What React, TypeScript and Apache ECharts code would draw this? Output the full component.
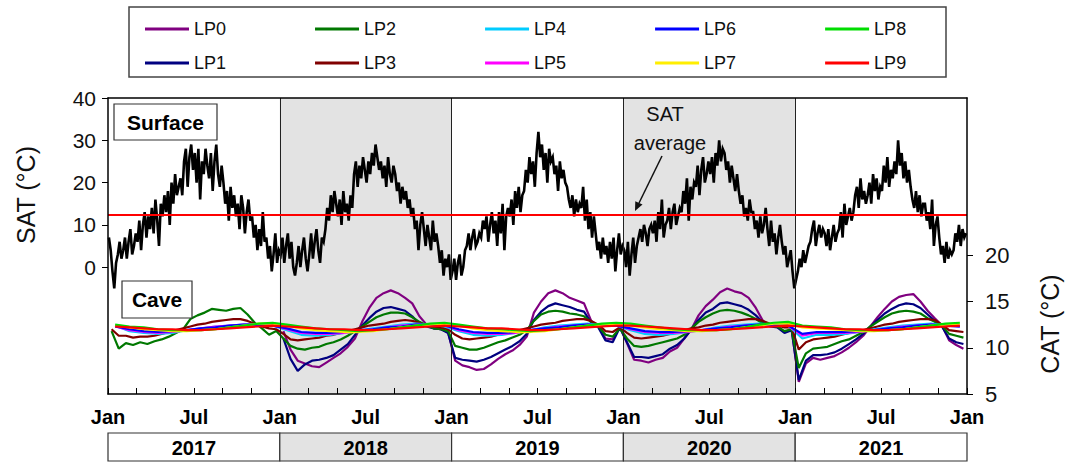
import React, { useEffect, useRef } from "react";
import * as echarts from "echarts";

const FONT = '"Liberation Sans", Arial, Helvetica, sans-serif';

// Calendar layout
const years = ["2017", "2018", "2019", "2020", "2021"];
const shadedYears = ["2018", "2020"];
const monthTickLabels: Record<number, string> = { 0: "Jan", 6: "Jul" };

// Surface air temperature (°C), eight readings per month
const sat2017 = [
  7, 4, -1, -5, 1, 3, 6, 2, 4, 7, 2, 6, 9, 3, 5, 8,
  6, 11, 4, 10, 13, 7, 12, 9, 14, 8, 16, 11, 5, 15, 12, 17,
  13, 18, 10, 20, 15, 22, 17, 19, 21, 17, 25, 28, 19, 26, 29, 23,
  27, 20, 28, 16, 25, 22, 28, 24, 21, 27, 18, 25, 29, 22, 19, 24,
  20, 15, 18, 11, 19, 14, 17, 12, 15, 9, 17, 14, 8, 13, 16, 11,
  12, 7, 10, 4, 9, 5, 13, 6, 7, 2, 5, -1, 3, 8, 1, 4,
];
const sat2018 = [
  3, 7, 1, 5, 8, 2, 6, 0, -2, 1, 5, 0, 4, 7, 2, -1,
  3, 8, 2, 6, 9, 4, 1, 7, 6, 9, 14, 11, 17, 13, 18, 15,
  12, 16, 10, 18, 13, 15, 11, 17, 14, 22, 25, 19, 24, 21, 26, 23,
  20, 25, 22, 27, 24, 29, 26, 23, 25, 21, 24, 19, 26, 22, 20, 24,
  22, 18, 20, 15, 19, 16, 18, 14, 16, 12, 14, 9, 11, 4, 10, 13,
  9, 5, 10, 7, 4, 11, 6, 8, 5, 1, 4, -2, 2, 0, 3, -3,
];
const sat2019 = [
  -1, 2, -3, 1, 3, -2, 0, 4, 5, 8, 4, 7, 9, 5, 6, 8,
  7, 11, 9, 12, 6, 10, 13, 8, 11, 5, 13, 8, 15, 4, 12, 14,
  12, 16, 10, 18, 14, 19, 13, 17, 18, 23, 20, 26, 22, 25, 19, 27,
  32, 26, 29, 23, 27, 20, 28, 25, 26, 22, 24, 18, 25, 21, 23, 20,
  19, 16, 14, 17, 12, 16, 13, 15, 14, 19, 11, 16, 9, 13, 7, 12,
  8, 4, 6, 2, 7, 3, 5, 1, 6, 2, 7, -1, 4, 8, 3, 5,
];
const sat2020 = [
  4, 0, 6, -2, 3, 7, 1, 5, 7, 9, 6, 10, 8, 5, 9, 10,
  8, 11, 6, 13, 9, 16, 7, 10, 11, 14, 9, 13, 15, 10, 12, 14,
  13, 18, 15, 21, 11, 19, 16, 20, 19, 24, 17, 23, 26, 20, 22, 25,
  22, 26, 20, 27, 24, 30, 25, 28, 27, 23, 25, 20, 24, 21, 18, 22,
  18, 15, 17, 12, 14, 11, 16, 13, 13, 9, 11, 7, 12, 8, 10, 14,
  9, 5, 11, 6, 8, 3, 7, 10, 6, 3, 5, 0, 2, 4, -1, -5,
];
const sat2021 = [
  -3, -1, 2, 0, 4, 1, 3, 5, 6, 9, 11, 5, 8, 10, 7, 9,
  8, 5, 9, 4, 7, 10, 6, 8, 9, 13, 7, 15, 10, 12, 14, 11,
  13, 17, 19, 14, 21, 16, 18, 15, 17, 20, 15, 22, 18, 21, 16, 19,
  18, 24, 20, 26, 19, 23, 21, 25, 22, 30, 24, 27, 21, 25, 20, 23,
  19, 16, 14, 18, 13, 17, 12, 15, 15, 11, 13, 9, 16, 5, 10, 12,
  7, 3, 5, 1, 6, 2, 4, 3, 4, 8, 6, 10, 5, 9, 7, 8,
];
const satAverage = 12.4;

// Cave air temperature (°C) at the loggers, two readings per month
// (LP0 and LP1 were installed at the start of 2018)
const lp0 = [
  null, null, null, null, null, null, null, null, null, null, null, null,
  null, null, null, null, null, null, null, null, null, null, null, null,
  11.8, 9.8, 8.6, 8.3, 8.0, 7.9, 8.4, 8.9, 9.4, 10.1, 11.0, 12.8,
  14.3, 15.4, 15.9, 16.2, 15.9, 15.4, 14.8, 13.4, 12.5, 12.1, 12.0, 11.7,
  8.6, 8.1, 7.9, 7.6, 7.7, 8.2, 8.8, 9.3, 9.7, 10.3, 11.2, 13.8,
  15.0, 15.9, 16.2, 15.9, 15.4, 15.1, 14.8, 12.9, 12.3, 11.0, 10.9, 12.3,
  10.5, 8.7, 8.6, 8.4, 8.7, 8.9, 9.6, 10.0, 11.0, 12.0, 13.5, 14.5,
  15.2, 16.0, 16.4, 16.1, 15.9, 15.4, 14.3, 12.9, 12.4, 12.3, 11.7, 12.0,
  6.3, 8.3, 8.9, 8.7, 8.9, 9.1, 9.5, 10.0, 10.6, 11.3, 12.3, 13.3,
  14.2, 15.0, 15.5, 15.7, 15.8, 15.0, 14.0, 13.2, 12.4, 10.8, 10.3, 9.9,
];
const lp1 = [
  null, null, null, null, null, null, null, null, null, null, null, null,
  null, null, null, null, null, null, null, null, null, null, null, null,
  11.0, 8.8, 7.5, 8.2, 8.6, 8.7, 8.9, 9.2, 9.8, 10.4, 11.4, 12.4,
  13.2, 13.9, 14.3, 14.4, 14.2, 14.0, 13.4, 12.6, 12.3, 12.1, 12.0, 11.6,
  8.9, 8.7, 8.6, 8.5, 8.7, 9.0, 9.4, 9.8, 10.2, 10.7, 11.5, 13.0,
  13.9, 14.5, 14.8, 14.6, 14.4, 14.1, 13.9, 12.7, 12.2, 10.8, 10.6, 12.2,
  10.6, 9.0, 9.0, 8.9, 9.1, 9.3, 9.9, 10.3, 11.0, 12.0, 13.0, 13.8,
  14.2, 14.8, 14.9, 14.7, 14.5, 14.1, 13.5, 12.7, 12.3, 12.2, 11.6, 11.9,
  6.5, 8.6, 9.2, 9.2, 9.3, 9.5, 9.9, 10.4, 10.9, 11.5, 12.3, 13.0,
  13.7, 14.2, 14.6, 14.8, 14.7, 14.3, 13.6, 12.9, 12.3, 11.0, 10.6, 10.4,
];
const lp2 = [
  11.8, 9.9, 10.5, 10.3, 10.6, 10.4, 10.7, 10.9, 11.2, 11.6, 12.0, 13.1,
  13.5, 13.8, 14.2, 14.1, 14.0, 14.2, 14.3, 13.6, 12.7, 12.1, 11.4, 11.8,
  11.0, 10.2, 9.9, 9.8, 10.0, 10.1, 10.4, 10.6, 10.9, 11.3, 11.8, 12.3,
  12.8, 13.3, 13.6, 13.8, 13.8, 13.7, 13.3, 12.8, 12.4, 12.1, 12.0, 11.8,
  10.2, 10.0, 9.8, 9.8, 10.0, 10.3, 10.6, 10.8, 11.1, 11.4, 11.9, 12.9,
  13.6, 13.9, 14.0, 13.9, 13.7, 13.6, 13.4, 12.8, 12.3, 11.4, 11.2, 12.1,
  11.0, 10.2, 10.1, 10.2, 10.4, 10.6, 10.8, 11.0, 11.4, 12.1, 12.8, 13.3,
  13.7, 14.0, 14.1, 14.0, 13.8, 13.5, 13.1, 12.6, 12.4, 12.3, 11.8, 12.0,
  7.8, 9.4, 9.9, 10.0, 10.1, 10.4, 10.7, 10.9, 11.3, 11.7, 12.3, 12.8,
  13.3, 13.7, 13.9, 14.0, 13.9, 13.7, 13.2, 12.8, 12.4, 11.5, 11.3, 11.1,
];
const lp3 = [
  12.0, 11.3, 11.3, 11.1, 11.2, 11.2, 11.3, 11.5, 11.7, 11.9, 12.1, 12.3,
  12.5, 12.6, 12.8, 12.9, 13.0, 13.1, 13.1, 12.9, 12.6, 12.3, 12.1, 12.0,
  11.5, 10.9, 10.8, 10.9, 11.0, 11.1, 11.3, 11.4, 11.6, 11.8, 12.0, 12.2,
  12.4, 12.5, 12.6, 12.8, 12.9, 13.0, 12.9, 12.7, 12.4, 12.3, 12.2, 12.0,
  11.4, 11.0, 10.9, 11.0, 11.1, 11.2, 11.4, 11.6, 11.7, 11.9, 12.1, 12.3,
  12.5, 12.6, 12.7, 12.9, 13.0, 13.1, 13.1, 12.9, 12.5, 11.8, 11.7, 12.2,
  11.6, 11.1, 11.0, 11.1, 11.2, 11.3, 11.5, 11.7, 11.9, 12.1, 12.2, 12.4,
  12.5, 12.7, 12.8, 12.9, 13.0, 13.1, 13.1, 12.9, 12.6, 12.4, 12.2, 12.2,
  9.8, 10.6, 10.9, 11.0, 11.1, 11.2, 11.4, 11.6, 11.7, 11.9, 12.1, 12.3,
  12.5, 12.6, 12.8, 12.9, 13.0, 13.1, 13.1, 13.0, 12.5, 11.9, 11.8, 11.7,
];

// Cave air temperature (°C), monthly readings
const lp4 = [
  12.4, 11.8, 11.6, 11.5, 11.6, 11.9, 12.1, 12.3, 12.4, 12.5, 12.5, 12.4,
  11.9, 11.4, 11.3, 11.4, 11.6, 11.8, 12.1, 12.3, 12.5, 12.6, 12.5, 12.3,
  11.8, 11.4, 11.3, 11.4, 11.6, 11.9, 12.2, 12.4, 12.5, 12.6, 12.4, 12.4,
  11.9, 11.5, 11.4, 11.5, 11.7, 11.9, 12.2, 12.4, 12.5, 12.6, 12.5, 12.4,
  11.0, 11.4, 11.4, 11.5, 11.7, 12.0, 12.2, 12.4, 12.5, 12.6, 12.4, 12.3,
];
const lp5 = [
  12.3, 11.9, 11.7, 11.6, 11.7, 11.9, 12.1, 12.3, 12.4, 12.5, 12.5, 12.4,
  12.0, 11.6, 11.5, 11.5, 11.6, 11.8, 12.0, 12.2, 12.4, 12.5, 12.5, 12.4,
  11.9, 11.6, 11.5, 11.5, 11.6, 11.9, 12.1, 12.3, 12.4, 12.5, 12.4, 12.4,
  12.0, 11.7, 11.6, 11.6, 11.7, 11.9, 12.1, 12.3, 12.4, 12.5, 12.5, 12.4,
  11.3, 11.6, 11.6, 11.6, 11.7, 11.9, 12.1, 12.3, 12.4, 12.5, 12.4, 12.3,
];
const lp6 = [
  12.3, 12.0, 11.8, 11.7, 11.8, 11.9, 12.1, 12.2, 12.4, 12.5, 12.5, 12.4,
  12.1, 11.7, 11.6, 11.6, 11.7, 11.9, 12.0, 12.2, 12.3, 12.5, 12.5, 12.4,
  12.0, 11.7, 11.6, 11.6, 11.7, 11.9, 12.1, 12.2, 12.4, 12.5, 12.4, 12.4,
  12.1, 11.8, 11.7, 11.7, 11.8, 11.9, 12.1, 12.2, 12.4, 12.5, 12.5, 12.4,
  11.5, 11.7, 11.7, 11.7, 11.8, 11.9, 12.1, 12.2, 12.4, 12.5, 12.4, 12.3,
];
const lp7 = [
  12.4, 12.2, 12.0, 11.9, 11.8, 11.8, 11.9, 12.0, 12.2, 12.4, 12.6, 12.6,
  12.4, 12.1, 11.9, 11.8, 11.7, 11.7, 11.8, 12.0, 12.2, 12.4, 12.5, 12.6,
  12.4, 12.1, 11.9, 11.8, 11.7, 11.7, 11.8, 12.0, 12.2, 12.4, 12.5, 12.6,
  12.4, 12.2, 12.0, 11.9, 11.8, 11.8, 11.9, 12.0, 12.2, 12.4, 12.6, 12.6,
  12.2, 12.1, 12.0, 11.9, 11.8, 11.8, 11.9, 12.0, 12.2, 12.4, 12.5, 12.6,
];
const lp8 = [
  12.5, 12.3, 12.2, 12.0, 11.9, 11.9, 11.9, 12.0, 12.2, 12.4, 12.6, 12.7,
  12.5, 12.3, 12.1, 12.0, 11.9, 11.8, 11.9, 12.0, 12.2, 12.4, 12.6, 12.7,
  12.5, 12.3, 12.1, 12.0, 11.9, 11.8, 11.9, 12.0, 12.2, 12.4, 12.6, 12.7,
  12.6, 12.4, 12.2, 12.0, 11.9, 11.9, 11.9, 12.0, 12.2, 12.5, 12.7, 12.8,
  12.4, 12.3, 12.2, 12.0, 11.9, 11.9, 11.9, 12.0, 12.2, 12.4, 12.6, 12.7,
];
const lp9 = [
  12.3, 12.2, 12.1, 12.0, 12.0, 11.9, 11.9, 12.0, 12.1, 12.2, 12.3, 12.4,
  12.3, 12.2, 12.1, 12.0, 12.0, 11.9, 11.9, 12.0, 12.1, 12.2, 12.3, 12.4,
  12.3, 12.2, 12.1, 12.1, 12.0, 11.9, 11.9, 12.0, 12.1, 12.2, 12.3, 12.4,
  12.4, 12.3, 12.2, 12.1, 12.0, 11.9, 11.9, 12.0, 12.1, 12.2, 12.3, 12.4,
  12.3, 12.2, 12.1, 12.0, 12.0, 11.9, 11.9, 12.0, 12.1, 12.2, 12.3, 12.4,
];

const loggerNames = ["LP0", "LP1", "LP2", "LP3", "LP4", "LP5", "LP6", "LP7", "LP8", "LP9"];
const loggerValues = [lp0, lp1, lp2, lp3, lp4, lp5, lp6, lp7, lp8, lp9];
const loggerColors = [
  "#800080", "#000080", "#007800", "#800000", "#00ccff",
  "#ff00ff", "#0000ff", "#ffee00", "#00dd00", "#ff0000",
];

// Readings sit at the middle of their slot within the month, x measured in months from Jan 2017
const toPoints = (values: (number | null)[], perMonth: number) =>
  values.map((v, i) => [(i + 0.5) / perMonth, v]);

const satValues = [...sat2017, ...sat2018, ...sat2019, ...sat2020, ...sat2021];
const totalMonths = years.length * 12;

function buildOption() {
  const bandSeries = {
    type: "line",
    data: [],
    silent: true,
    z: 1,
    markArea: {
      silent: true,
      itemStyle: { color: "#e3e3e3" },
      data: years
        .map((y, i) => ({ y, i }))
        .filter(({ y }) => shadedYears.includes(y))
        .map(({ i }) => [{ xAxis: i * 12 }, { xAxis: (i + 1) * 12 }]),
    },
    markLine: {
      silent: true,
      symbol: "none",
      label: { show: false },
      lineStyle: { color: "#222", width: 1, type: "solid" },
      data: years.slice(1).map((_, i) => ({ xAxis: (i + 1) * 12 })),
    },
  };

  const satSeries = {
    name: "SAT",
    type: "line",
    yAxisIndex: 0,
    data: toPoints(satValues, 8),
    symbol: "none",
    z: 3,
    lineStyle: { color: "#000", width: 2.6, join: "miter" },
    markLine: {
      silent: true,
      symbol: "none",
      label: { show: false },
      lineStyle: { color: "#ff0000", width: 2, type: "solid" },
      data: [{ yAxis: satAverage }],
    },
  };

  const caveSeries = loggerNames.map((name, i) => ({
    name,
    type: "line",
    yAxisIndex: 1,
    data: toPoints(loggerValues[i], loggerValues[i].length / totalMonths),
    symbol: "none",
    connectNulls: false,
    z: 3,
    color: loggerColors[i],
    lineStyle: { color: loggerColors[i], width: 2.2 },
  }));

  const legendBase = {
    left: 140,
    itemGap: 89,
    itemWidth: 44,
    itemHeight: 3,
    icon: "rect",
    selectedMode: false,
    textStyle: { fontSize: 18, color: "#111", fontFamily: FONT },
  };

  return {
    animation: false,
    backgroundColor: "#fff",
    textStyle: { fontFamily: FONT },
    legend: [
      { ...legendBase, top: 15, data: loggerNames.filter((_, i) => i % 2 === 0) },
      { ...legendBase, top: 49, data: loggerNames.filter((_, i) => i % 2 === 1) },
    ],
    grid: { left: 108, right: 103, top: 98, height: 296, containLabel: false },
    xAxis: [
      {
        type: "value",
        min: 0,
        max: totalMonths,
        interval: 2,
        z: 10,
        axisLine: { onZero: false, lineStyle: { color: "#000", width: 1.5 } },
        axisTick: { inside: true, length: 6, lineStyle: { color: "#000", width: 1 } },
        axisLabel: {
          margin: 13,
          fontSize: 20,
          fontWeight: "bold",
          color: "#000",
          fontFamily: FONT,
          formatter: (v: number) => monthTickLabels[v % 12] ?? "",
        },
        splitLine: { show: false },
      },
      {
        type: "value",
        position: "top",
        min: 0,
        max: totalMonths,
        z: 10,
        axisLine: { onZero: false, lineStyle: { color: "#000", width: 1.5 } },
        axisTick: { show: false },
        axisLabel: { show: false },
        splitLine: { show: false },
      },
    ],
    yAxis: [
      {
        type: "value",
        position: "left",
        min: -30,
        max: 40,
        interval: 10,
        z: 10,
        axisLine: { show: true, onZero: false, lineStyle: { color: "#000", width: 1.5 } },
        axisTick: { show: true, length: 6, customValues: [0, 10, 20, 30, 40], lineStyle: { color: "#000" } },
        axisLabel: { customValues: [0, 10, 20, 30, 40], fontSize: 21, color: "#111", margin: 12, fontFamily: FONT },
        splitLine: { show: false },
      },
      {
        type: "value",
        position: "right",
        min: 5,
        max: 37,
        interval: 5,
        z: 10,
        axisLine: { show: true, onZero: false, lineStyle: { color: "#000", width: 1.5 } },
        axisTick: { show: true, length: 6, customValues: [5, 10, 15, 20], lineStyle: { color: "#000" } },
        axisLabel: { customValues: [5, 10, 15, 20], fontSize: 22, color: "#111", margin: 18, fontFamily: FONT },
        splitLine: { show: false },
      },
    ],
    series: [bandSeries, satSeries, ...caveSeries],
  };
}

function buildGraphics(px: (m: number) => number) {
  const els: any[] = [];
  // legend frame
  els.push({
    type: "rect",
    shape: { x: 129, y: 7, width: 817, height: 70 },
    style: { fill: "none", stroke: "#444", lineWidth: 1.5 },
    z: 5,
  });
  // axis titles
  els.push({
    type: "text",
    x: 26,
    y: 195,
    rotation: Math.PI / 2,
    style: { text: "SAT (°C)", font: `25px ${FONT}`, fill: "#111", align: "center", verticalAlign: "middle" },
  });
  els.push({
    type: "text",
    x: 1050,
    y: 324,
    rotation: Math.PI / 2,
    style: { text: "CAT (°C)", font: `25px ${FONT}`, fill: "#111", align: "center", verticalAlign: "middle" },
  });
  // panel labels
  els.push({
    type: "rect",
    shape: { x: 114, y: 104, width: 103, height: 36 },
    style: { fill: "#fff", stroke: "#333", lineWidth: 1.2 },
    z: 20,
  });
  els.push({
    type: "text",
    x: 165.5,
    y: 122,
    z: 21,
    style: { text: "Surface", font: `bold 21px ${FONT}`, fill: "#000", align: "center", verticalAlign: "middle" },
  });
  els.push({
    type: "rect",
    shape: { x: 122, y: 281, width: 70, height: 37 },
    style: { fill: "#fff", stroke: "#333", lineWidth: 1.2 },
    z: 20,
  });
  els.push({
    type: "text",
    x: 157,
    y: 299.5,
    z: 21,
    style: { text: "Cave", font: `bold 21px ${FONT}`, fill: "#000", align: "center", verticalAlign: "middle" },
  });
  // SAT average annotation
  els.push({
    type: "text",
    x: 665,
    y: 114,
    z: 21,
    style: { text: "SAT", font: `20px ${FONT}`, fill: "#111", align: "center", verticalAlign: "middle" },
  });
  els.push({
    type: "text",
    x: 670,
    y: 143,
    z: 21,
    style: { text: "average", font: `20px ${FONT}`, fill: "#111", align: "center", verticalAlign: "middle" },
  });
  els.push({
    type: "line",
    z: 21,
    shape: { x1: 662, y1: 156, x2: 639, y2: 203 },
    style: { stroke: "#111", lineWidth: 1.5 },
  });
  els.push({
    type: "polygon",
    z: 21,
    shape: { points: [[635, 211], [642.5, 204.6], [635.3, 201.2]] },
    style: { fill: "#111" },
  });
  // year strip beneath the time axis
  years.forEach((y, i) => {
    const x0 = px(i * 12);
    const x1 = px((i + 1) * 12);
    els.push({
      type: "rect",
      shape: { x: x0, y: 433, width: x1 - x0, height: 28 },
      style: { fill: shadedYears.includes(y) ? "#e3e3e3" : "#fff", stroke: "#333", lineWidth: 1.2 },
    });
    els.push({
      type: "text",
      x: (x0 + x1) / 2,
      y: 447.5,
      style: { text: y, font: `bold 20px ${FONT}`, fill: "#000", align: "center", verticalAlign: "middle" },
    });
  });
  return els;
}

export default function App() {
  const ref = useRef<HTMLDivElement>(null);
  useEffect(() => {
    if (!ref.current) return;
    const chart = echarts.init(ref.current, null, { renderer: "svg" });
    chart.setOption(buildOption() as any);
    const px = (m: number) => chart.convertToPixel({ xAxisIndex: 0 }, m) as unknown as number;
    chart.setOption({ graphic: { elements: buildGraphics(px) } });
    return () => chart.dispose();
  }, []);
  return (
    <div
      ref={ref}
      style={{ position: "fixed", left: 0, top: 0, width: 1070, height: 462, background: "#fff" }}
    />
  );
}
